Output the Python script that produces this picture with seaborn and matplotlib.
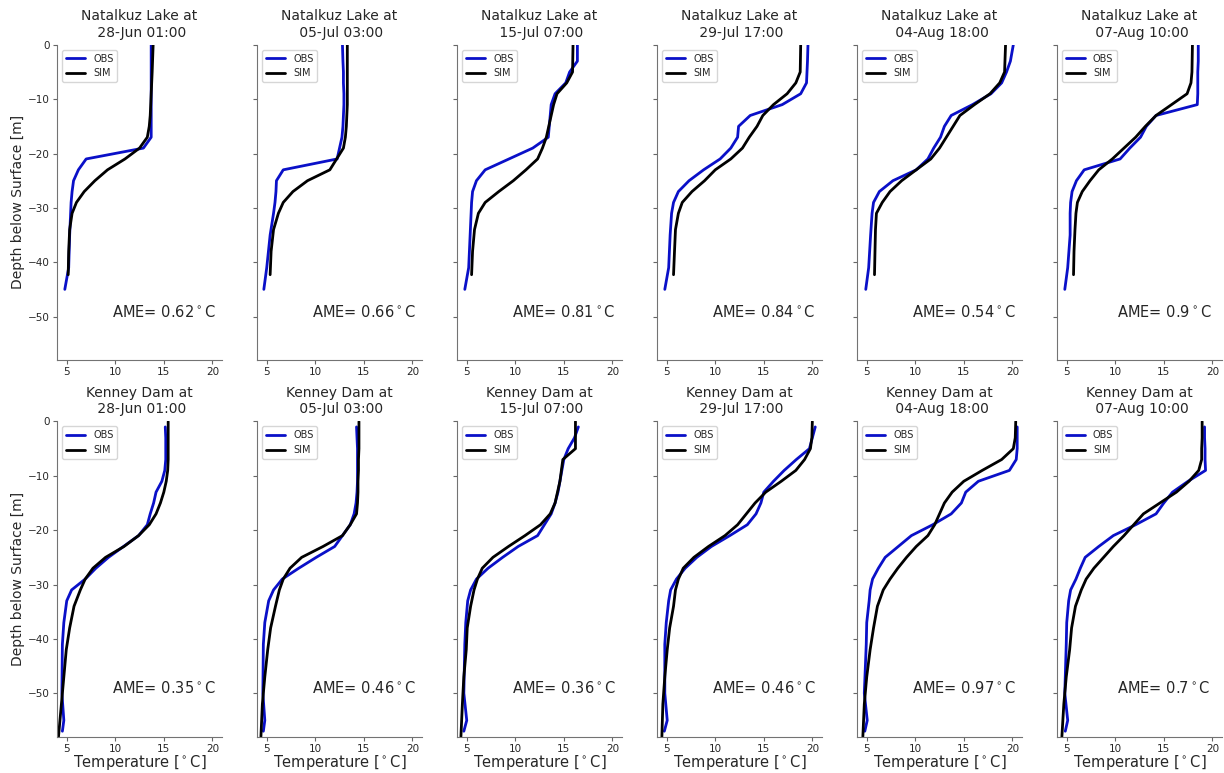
import matplotlib
matplotlib.use("Agg")
import matplotlib.pyplot as plt
import seaborn as sns

# ── panel labels ────────────────────────────────────────────────────────────
DATES = ["28-Jun 01:00", "05-Jul 03:00", "15-Jul 07:00",
         "29-Jul 17:00", "04-Aug 18:00", "07-Aug 10:00"]
NAT_AME = [0.62, 0.66, 0.81, 0.84, 0.54, 0.9]
KEN_AME = [0.35, 0.46, 0.36, 0.46, 0.97, 0.7]

# ── Natalkuz Lake ───────────────────────────────────────────────────────────
NAT_OBS_Z = [0, -3, -5, -7, -9, -11, -13, -15, -17, -19, -21, -23, -25,
             -27, -29, -31, -35, -41, -45]
nat_obs_1 = [13.7, 13.7, 13.7, 13.7, 13.7, 13.7, 13.7, 13.7, 13.7, 12.9, 7.0,
             6.2, 5.7, 5.55, 5.45, 5.4, 5.3, 5.2, 4.8]
nat_obs_2 = [12.8, 12.85, 12.9, 12.9, 12.95, 12.95, 12.9, 12.85, 12.75, 12.5,
             12.25, 6.7, 6.0, 5.95, 5.85, 5.7, 5.35, 5.0, 4.7]
nat_obs_3 = [16.4, 16.4, 15.6, 15.2, 14.1, 13.7, 13.6, 13.5, 13.4, 11.8, 9.35,
             6.9, 6.0, 5.6, 5.5, 5.45, 5.35, 5.2, 4.8]
nat_obs_4 = [19.55, 19.5, 19.45, 19.4, 18.8, 16.9, 13.6, 12.4, 12.3, 11.6, 10.5,
             8.8, 7.3, 6.2, 5.7, 5.5, 5.35, 5.2, 4.8]
nat_obs_5 = [20.1, 19.8, 19.4, 18.9, 17.8, 15.9, 13.7, 13.0, 12.6, 11.9, 11.3,
             10.1, 7.7, 6.3, 5.7, 5.55, 5.4, 5.2, 4.9]
nat_obs_6 = [18.55, 18.55, 18.5, 18.5, 18.5, 18.45, 14.2, 13.2, 12.6, 11.5, 10.5,
             6.8, 6.0, 5.55, 5.4, 5.35, 5.35, 5.1, 4.8]

NAT_SIM_Z = [0, -5, -7, -9, -11, -13, -15, -17, -19, -21, -23, -25, -27, -29,
             -31, -34, -38, -42.3]
nat_sim_1 = [13.9, 13.8, 13.75, 13.7, 13.65, 13.6, 13.5, 13.3, 12.5, 11.0, 9.2,
             7.9, 6.8, 6.0, 5.55, 5.3, 5.2, 5.15]
nat_sim_2 = [13.3, 13.3, 13.3, 13.3, 13.3, 13.25, 13.2, 13.1, 12.9, 12.2, 11.5,
             9.2, 7.7, 6.7, 6.2, 5.7, 5.45, 5.35]
nat_sim_3 = [15.95, 15.9, 15.3, 14.3, 13.95, 13.7, 13.45, 13.2, 12.8, 12.3, 11.1,
             9.8, 8.3, 6.9, 6.2, 5.8, 5.6, 5.5]
nat_sim_4 = [18.8, 18.75, 18.3, 17.4, 16.0, 14.9, 14.3, 13.5, 12.8, 11.6, 10.0,
             8.9, 7.6, 6.6, 6.2, 5.9, 5.8, 5.7]
nat_sim_5 = [19.3, 19.2, 18.7, 17.7, 16.1, 14.6, 13.9, 13.2, 12.5, 11.6, 10.1,
             8.6, 7.4, 6.6, 6.0, 5.9, 5.85, 5.8]
nat_sim_6 = [17.95, 17.9, 17.8, 17.4, 15.8, 14.2, 13.1, 12.1, 10.9, 9.7, 8.3,
             7.4, 6.6, 6.1, 5.95, 5.85, 5.75, 5.7]

# ── Kenney Dam ──────────────────────────────────────────────────────────────
KEN_OBS_Z = [-1, -3, -5, -7, -9, -11, -13, -15, -17, -19, -21, -23, -25, -27,
             -29, -31, -33, -37, -41, -50, -55, -57]
ken_obs_1 = [15.15, 15.2, 15.2, 15.2, 15.1, 14.8, 14.2, 13.95, 13.6, 13.3, 12.4,
             10.85, 9.3, 8.0, 6.9, 5.5, 5.0, 4.7, 4.55, 4.5, 4.7, 4.55]
ken_obs_2 = [14.25, 14.3, 14.35, 14.35, 14.35, 14.35, 14.3, 14.2, 14.0, 13.6,
             12.8, 12.0, 10.1, 8.3, 6.6, 5.7, 5.2, 4.8, 4.65, 4.6, 4.8, 4.65]
ken_obs_3 = [16.5, 16.1, 15.45, 15.0, 14.8, 14.6, 14.4, 14.1, 13.7, 13.0, 12.3,
             10.3, 8.7, 7.2, 6.0, 5.4, 5.1, 4.9, 4.8, 4.7, 5.0, 4.7]
ken_obs_4 = [20.3, 20.0, 19.7, 18.35, 17.1, 16.0, 15.0, 14.7, 14.2, 13.3, 11.5,
             9.6, 8.1, 6.9, 6.0, 5.4, 5.2, 4.95, 4.8, 4.8, 5.05, 4.75]
ken_obs_5 = [20.5, 20.5, 20.5, 20.4, 19.7, 16.5, 15.2, 14.75, 13.7, 11.8, 9.6,
             8.25, 6.9, 6.2, 5.6, 5.35, 5.25, 5.0, 4.95, 4.75, 5.05, 4.8]
ken_obs_6 = [19.2, 19.2, 19.25, 19.25, 19.3, 17.5, 15.9, 15.0, 14.2, 12.1, 9.8,
             8.3, 6.9, 6.4, 5.95, 5.4, 5.2, 5.0, 4.95, 4.8, 5.1, 4.85]

KEN_SIM_Z = [0, -3, -5, -7, -9, -11, -13, -15, -17, -19, -21, -23, -25, -27,
             -29, -31, -34, -38, -42, -47, -52, -58]
ken_sim_1 = [15.45, 15.45, 15.45, 15.45, 15.4, 15.25, 15.0, 14.65, 14.2, 13.5,
             12.4, 10.9, 9.0, 7.7, 6.9, 6.4, 5.75, 5.3, 4.95, 4.7, 4.45, 4.15]
ken_sim_2 = [14.5, 14.5, 14.5, 14.45, 14.45, 14.4, 14.4, 14.35, 14.25, 13.6,
             12.8, 10.8, 8.6, 7.4, 6.7, 6.3, 5.9, 5.4, 5.1, 4.8, 4.55, 4.4]
ken_sim_3 = [16.2, 16.2, 16.2, 14.9, 14.75, 14.6, 14.35, 14.1, 13.6, 12.6,
             11.0, 9.3, 7.7, 6.6, 6.1, 5.75, 5.4, 5.05, 4.95, 4.7, 4.55, 4.4]
ken_sim_4 = [20.0, 19.95, 19.8, 19.2, 18.3, 16.8, 15.2, 14.1, 13.2, 12.3, 11.0,
             9.3, 7.8, 6.7, 6.2, 5.9, 5.7, 5.3, 5.05, 4.8, 4.6, 4.5]
ken_sim_5 = [20.35, 20.3, 20.1, 18.9, 16.9, 15.0, 13.8, 13.0, 12.5, 12.0, 11.3,
             10.1, 9.1, 8.2, 7.4, 6.7, 6.1, 5.7, 5.35, 5.0, 4.75, 4.6]
ken_sim_6 = [18.95, 18.95, 18.9, 18.9, 18.6, 17.6, 16.3, 14.6, 12.9, 11.9, 10.9,
             9.8, 8.8, 7.8, 7.0, 6.5, 5.9, 5.5, 5.3, 4.95, 4.7, 4.5]

NAT_OBS = [nat_obs_1, nat_obs_2, nat_obs_3, nat_obs_4, nat_obs_5, nat_obs_6]
NAT_SIM = [nat_sim_1, nat_sim_2, nat_sim_3, nat_sim_4, nat_sim_5, nat_sim_6]
KEN_OBS = [ken_obs_1, ken_obs_2, ken_obs_3, ken_obs_4, ken_obs_5, ken_obs_6]
KEN_SIM = [ken_sim_1, ken_sim_2, ken_sim_3, ken_sim_4, ken_sim_5, ken_sim_6]

OBS_COLOR = "#0a10c8"
SIM_COLOR = "black"

sns.set_style("ticks")
plt.rcParams["font.family"] = ["DejaVu Sans"]

fig, axes = plt.subplots(2, 6, figsize=(12.24, 7.73), dpi=100)
fig.subplots_adjust(left=0.0466, right=0.9984, top=0.942, bottom=0.047,
                    wspace=0.212, hspace=0.195)

rows = [("Natalkuz Lake", NAT_OBS_Z, NAT_OBS, NAT_SIM_Z, NAT_SIM, NAT_AME),
        ("Kenney Dam", KEN_OBS_Z, KEN_OBS, KEN_SIM_Z, KEN_SIM, KEN_AME)]

for r, (site, oz, obs, sz, sim, ame) in enumerate(rows):
    for c in range(6):
        ax = axes[r, c]
        sns.lineplot(x=obs[c], y=oz, sort=False, estimator=None, ax=ax,
                     color=OBS_COLOR, lw=2, label="OBS")
        sns.lineplot(x=sim[c], y=sz, sort=False, estimator=None, ax=ax,
                     color=SIM_COLOR, lw=2, label="SIM")
        ax.set_xlim(4, 21)
        ax.set_ylim(-58, 0)
        ax.set_xticks([5, 10, 15, 20])
        ax.set_yticks([0, -10, -20, -30, -40, -50])
        ax.tick_params(labelsize=7.5, color="0.4", length=3, pad=2)
        if c > 0:
            ax.set_yticklabels([])
            ax.set_ylabel("")
        else:
            ax.set_ylabel("Depth below Surface [m]", fontsize=10, labelpad=2)
        if r == 1:
            ax.set_xlabel("Temperature [$^\\circ$C]", fontsize=10.5, labelpad=-0.5)
        ax.set_title(f"{site} at\n {DATES[c]}", fontsize=10)
        ax.text(15, -50, f"AME= {ame[c]}$^\\circ$C", ha="center",
                va="baseline", fontsize=10.5)
        ax.legend(loc="upper left", fontsize=7, frameon=True)
        for s in ["left", "bottom"]:
            ax.spines[s].set_color("0.45")
        sns.despine(ax=ax)

plt.savefig("out.png", dpi=100)
plt.close()
